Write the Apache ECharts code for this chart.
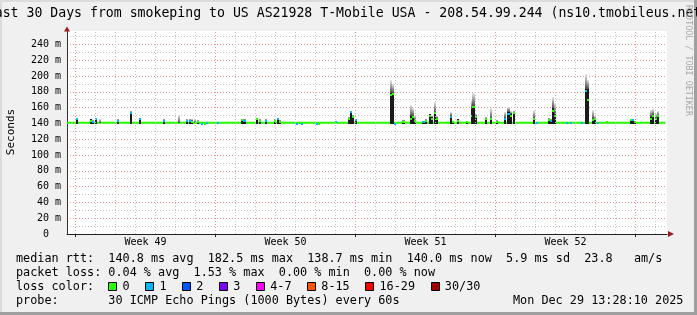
<!DOCTYPE html>
<html><head><meta charset="utf-8">
<script src="https://cdn.jsdelivr.net/npm/echarts@6/dist/echarts.min.js"></script>
<style>html,body{margin:0;padding:0;background:#f0f0f0;overflow:hidden}#c{width:697px;height:315px}</style>
</head><body><div id="c"></div>
<script>
// ---------------- data ----------------
const titleText = 'Last 30 Days from smokeping to US AS21928 T-Mobile USA - 208.54.99.244 (ns10.tmobileus.net)';
const yAxisTitle = 'Seconds';
const watermark = 'RRDTOOL / TOBI OETIKER';
// x axis in days, 0 = first weekly grid line
const xMin = -0.425, xMax = 29.575;
const yMin = 0, yMax = 257;
const xMajorGrid = [0, 7, 14, 21, 28];
const xMinorGrid = [1,2,3,4,5,6,8,9,10,11,12,13,15,16,17,18,19,20,22,23,24,25,26,27,29];
const weekPositions = [3.5, 10.5, 17.5, 24.5];
const weekLabels = ['Week 49', 'Week 50', 'Week 51', 'Week 52'];
// median rtt (ms) typical level over the whole period
const medianBaseline = [[-0.425, 141], [29.5, 141]];
const smokeFloor = 139.6;
// events: [day, median ms (null = on baseline), lost pings, dense smoke top ms, smoke top ms]
const events = [
 [0.05,145,1,146,147],[0.75,143,0,145,146],[0.85,142,1,143,144],[1.0,145,1,146,147],[1.2,null,0,141,145],
 [2.1,143,1,144,145],[2.75,153,1,154,156],[3.2,145,1,146,147],[4.4,143,1,144,145],[5.15,null,0,141,151],
 [5.55,143,1,144,145],[5.7,143,1,144,145],[5.8,142,0,143,145],[5.95,null,0,141,145],[6.1,142,0,143,144],
 [6.3,139.5,1,141,141],[6.45,139.5,0,141,141],[6.55,140,1,141,141],[7.1,141,1,141,141],
 [8.35,144,0,145,146],[8.45,143,1,144,145],[9.05,145,0,145,146],[9.2,143,0,144,145],[9.5,143,1,144,145],
 [9.95,143,0,144,145],[10.1,145,1,146,147],[10.2,142,0,143,144],[11.05,139.5,1,141,141],[11.2,140,0,141,141],
 [11.3,139.5,1,141,141],[12.05,139.5,1,141,141],[12.15,139.5,0,141,141],[13.0,141.5,1,141,141],
 [13.65,146,0,147,148],[13.75,154,1,155,156],[13.85,148,0,150,151],[14.0,144,1,145,146],
 [15.75,176,0,179,195],[15.85,177,0,179,190],[15.95,139.5,1,141,141],[16.4,142,0,143,144],
 [16.75,146,0,149,163],[16.85,148,0,149,160],[16.95,143,0,144,150],[17.4,142,1,142,143],[17.5,143,0,144,145],
 [17.7,149,0,151.5,152],[17.8,146,0,148,149],[17.95,153,0,155,167],[18.05,145,0,147,150],
 [18.75,148,1,150,155],[18.85,142,0,142,143],[19.1,143,0,145,146],[19.55,142,0,142,142],
 [19.8,150,0,158,170],[19.9,161,0,162,178],[20.0,148,0,150,152],[20.5,146,0,147,148],[20.75,145,0,146,160],
 [21.05,142,0,143,144],[21.45,145,1,147,155],[21.65,152,1,155,161],[21.75,150,0,152,156],[21.9,153,0,154,156],
 [22.9,145,0,146,157],[23.05,141,1,141,141],[23.65,144,0,146,147],[23.75,143,1,144,145],
 [23.85,156,0,159,174],[23.95,150,0,152,166],[24.55,141,1,141,141],[24.75,141,1,141,141],[25.3,141,1,141,141],
 [25.5,181,1,183,203],[25.6,170,0,183,195],[25.85,144,0,146,157],[25.95,145,0,146,150],[26.1,141,1,141,141],
 [26.55,141.5,0,141,141],[27.75,144,0,145,146],[27.85,144,1,145,146],[27.95,142,0,142,142],
 [28.75,146,0,148,157],[28.85,150,0,151,158],[29.0,146,0,147,152],[29.1,149,0,150,156]
];
const lossLabels = ['0', '1', '2', '3', '4-7', '8-15', '16-29', '30/30'];
const lossColors = ['#26ff00', '#00b8ff', '#0059ff', '#7e00ff', '#ff00ff', '#ff5500', '#ff0000', '#a10000'];
const lossUpper = [0, 1, 2, 3, 7, 15, 29, 30];
const statRtt = 'median rtt:  140.8 ms avg  182.5 ms max  138.7 ms min  140.0 ms now  5.9 ms sd  23.8   am/s';
const statLoss = 'packet loss: 0.04 % avg  1.53 % max  0.00 % min  0.00 % now';
const lossTitle = 'loss color:';
const probeText = 'probe:       30 ICMP Echo Pings (1000 Bytes) every 60s';
const stampText = 'Mon Dec 29 13:28:10 2025';

// ---------------- chart ----------------
const FONT = '"DejaVu Sans Mono", monospace';
const LCW = 7.1;            // legend char width
const LFS = 11.8;           // legend font size
const LX = 16;              // legend left
const rowY = [259, 273, 287, 301];
const evWidth = 0.1;

function lossColor(n) {
  for (let i = 0; i < lossUpper.length; i++) if (n <= lossUpper[i]) return lossColors[i];
  return lossColors[lossColors.length - 1];
}

const chart = echarts.init(document.getElementById('c'), null, {renderer: 'canvas', width: 697, height: 315});

const graphics = [];
// frame shading
graphics.push({type: 'rect', shape: {x: 0, y: 0, width: 697, height: 2}, style: {fill: '#dcdcdc'}, z: 0});
graphics.push({type: 'rect', shape: {x: 0, y: 0, width: 2, height: 315}, style: {fill: '#dcdcdc'}, z: 0});
graphics.push({type: 'rect', shape: {x: 694, y: 0, width: 3, height: 315}, style: {fill: '#9f9f9f'}, z: 0});
graphics.push({type: 'rect', shape: {x: 0, y: 312, width: 697, height: 3}, style: {fill: '#9f9f9f'}, z: 0});
// title
graphics.push({type: 'text', x: 348, y: 14, style: {text: titleText, font: '13.2px ' + FONT, fill: '#000', align: 'center', verticalAlign: 'middle'}, z: 5});
// y axis title
graphics.push({type: 'text', x: 11, y: 132, rotation: Math.PI / 2, style: {text: yAxisTitle, font: '11px ' + FONT, fill: '#000', align: 'center', verticalAlign: 'middle'}, z: 5});
// watermark
graphics.push({type: 'text', x: 688, y: 5, rotation: -Math.PI / 2, style: {text: watermark, font: '8.4px ' + FONT, fill: '#a8a8a8', align: 'left', verticalAlign: 'middle'}, z: 5});
// stats rows
graphics.push({type: 'text', x: LX, y: rowY[0], style: {text: statRtt, font: LFS + 'px ' + FONT, fill: '#000', verticalAlign: 'middle'}});
graphics.push({type: 'text', x: LX, y: rowY[1], style: {text: statLoss, font: LFS + 'px ' + FONT, fill: '#000', verticalAlign: 'middle'}});
graphics.push({type: 'text', x: LX, y: rowY[2], style: {text: lossTitle, font: LFS + 'px ' + FONT, fill: '#000', verticalAlign: 'middle'}});
graphics.push({type: 'text', x: LX, y: rowY[3], style: {text: probeText, font: LFS + 'px ' + FONT, fill: '#000', verticalAlign: 'middle'}});
graphics.push({type: 'text', x: LX + 70 * LCW, y: rowY[3], style: {text: stampText, font: LFS + 'px ' + FONT, fill: '#000', verticalAlign: 'middle'}});
// loss legend
let lx = LX + 13 * LCW;
lossLabels.forEach((lab, i) => {
  graphics.push({type: 'rect', shape: {x: Math.round(lx) + 0.5, y: rowY[2] - 4.5, width: 8, height: 8}, style: {fill: lossColors[i], stroke: '#000', lineWidth: 1}});
  graphics.push({type: 'text', x: lx + 2 * LCW, y: rowY[2], style: {text: lab, font: LFS + 'px ' + FONT, fill: '#000', verticalAlign: 'middle'}});
  lx += (lab.length + 4.2) * LCW;
});

const gridMarks = [].concat(
  xMinorGrid.map(v => ({xAxis: v, lineStyle: {color: '#c4c4c4', type: [1, 2], width: 1}})),
  xMajorGrid.map(v => ({xAxis: v, lineStyle: {color: '#e49494', type: [1, 2], width: 1}}))
);

const option = {
  animation: false,
  backgroundColor: '#f0f0f0',
  grid: {left: 67, top: 31, width: 600, height: 203, show: true, backgroundColor: '#ffffff', borderWidth: 0},
  xAxis: [
    {type: 'value', min: xMin, max: xMax, position: 'bottom',
     axisLine: {show: true, onZero: false, lineStyle: {color: '#222', width: 1}},
     axisTick: {show: true, customValues: xMajorGrid, length: 3, lineStyle: {color: '#222'}},
     axisLabel: {show: true, customValues: weekPositions, margin: 3,
       formatter: v => weekLabels[weekPositions.indexOf(v)] || '',
       fontFamily: 'DejaVu Sans Mono', fontSize: 10, color: '#000'},
     splitLine: {show: false}},
    {type: 'value', min: xMin, max: xMax, position: 'bottom',
     axisLine: {show: true, onZero: false, symbol: ['none', 'triangle'], symbolSize: [6, 6], symbolOffset: [0, 4],
       lineStyle: {color: '#9c1c1c', width: 0}},
     axisTick: {show: false}, axisLabel: {show: false}, splitLine: {show: false}}
  ],
  yAxis: [
    {type: 'value', min: yMin, max: yMax, interval: 10, position: 'left',
     axisLine: {show: true, onZero: false, symbol: ['none', 'triangle'], symbolSize: [6, 5], symbolOffset: [0, 2],
       lineStyle: {color: '#9c1c1c', width: 0}},
     axisTick: {show: false}, axisLabel: {show: false},
     splitLine: {show: true, showMinLine: false, showMaxLine: false, lineStyle: {color: '#c4c4c4', type: [1, 2], width: 1}}},
    {type: 'value', min: yMin, max: yMax, interval: 20, position: 'left',
     axisLine: {show: true, onZero: false, lineStyle: {color: '#333', width: 1}},
     axisTick: {show: false},
     axisLabel: {show: true, showMaxLabel: false, margin: 6, fontFamily: 'DejaVu Sans Mono', fontSize: 10, color: '#000',
       formatter: v => v === 0 ? '0  ' : v + ' m'},
     splitLine: {show: true, showMinLine: false, showMaxLine: false, lineStyle: {color: '#e49494', type: [1, 2], width: 1}}}
  ],
  series: [
    {type: 'line', name: 'grid', xAxisIndex: 0, yAxisIndex: 1, data: medianBaseline, symbol: 'none', silent: true, z: 1,
     lineStyle: {opacity: 0},
     markLine: {silent: true, symbol: ['none', 'none'], label: {show: false}, animation: false, data: gridMarks}},
    {type: 'line', name: 'median', xAxisIndex: 0, yAxisIndex: 1, data: medianBaseline, symbol: 'none', silent: true, z: 2,
     lineStyle: {color: lossColors[0], width: 2}},
    {type: 'custom', name: 'smoke', xAxisIndex: 0, yAxisIndex: 1, data: events, silent: true, z: 3,
     encode: {x: 0, y: 4},
     renderItem: function (params, api) {
       const t = api.value(0), med = api.value(1), loss = api.value(2), dark = api.value(3), top = api.value(4);
       const xa = Math.round(api.coord([t - evWidth / 2, 0])[0]);
       const xb = Math.round(api.coord([t + evWidth / 2, 0])[0]);
       const w = Math.max(2, xb - xa);
       const ch = [];
       const yFloor = Math.round(api.coord([t, smokeFloor])[1]);
       const yDark = Math.round(api.coord([t, dark])[1]);
       if (top > dark) {
         const yTop = Math.round(api.coord([t, top])[1]);
         ch.push({type: 'rect', shape: {x: xa, y: yTop, width: w, height: yDark - yTop},
           style: {fill: new echarts.graphic.LinearGradient(0, 0, 0, 1, [{offset: 0, color: '#e8e8e8'}, {offset: 1, color: '#4a4a4a'}])}});
       }
       if (dark > smokeFloor + 1.5) {
         ch.push({type: 'rect', shape: {x: xa, y: yDark, width: w, height: yFloor - yDark}, style: {fill: '#1a1a1a'}});
       }
       if (!isNaN(med)) {
         const ym = Math.round(api.coord([t, med])[1]);
         ch.push({type: 'rect', shape: {x: xa, y: ym - 1, width: w, height: 2}, style: {fill: lossColor(loss)}});
       }
       return {type: 'group', children: ch};
     }}
  ],
  graphic: graphics
};
chart.setOption(option);
</script>
</body></html>
